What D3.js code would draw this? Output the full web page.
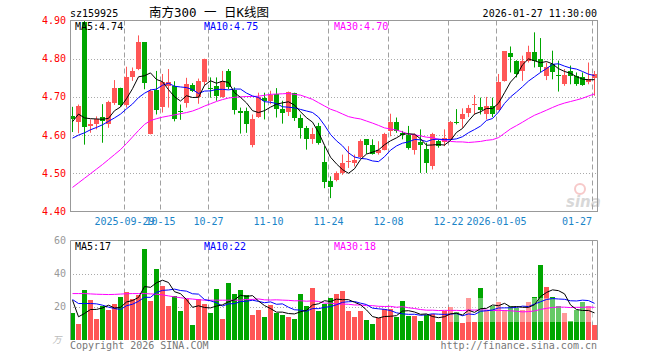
<!DOCTYPE html>
<html><head><meta charset="utf-8">
<script src="https://cdn.jsdelivr.net/npm/d3@7/dist/d3.min.js"></script>
<style>html,body{margin:0;padding:0;background:#fff;}svg{display:block;}</style>
</head><body>
<svg id="c" width="660" height="360"></svg>
<script>
const dates = ["09-16","09-17","09-18","09-19","09-22","09-23","09-24","09-25","09-26","09-29","09-30",
"10-09","10-10","10-13","10-14","10-15","10-16","10-17","10-20","10-21","10-22","10-23","10-24",
"10-27","10-28","10-29","10-30","10-31","11-03","11-04","11-05","11-06","11-07",
"11-10","11-11","11-12","11-13","11-14","11-17","11-18","11-19","11-20","11-21",
"11-24","11-25","11-26","11-27","11-28","12-01","12-02","12-03","12-04","12-05",
"12-08","12-09","12-10","12-11","12-12","12-15","12-16","12-17","12-18","12-19",
"12-22","12-23","12-24","12-25","12-26","12-29","12-30","12-31",
"01-05","01-06","01-07","01-08","01-09","01-12","01-13","01-14","01-15","01-16",
"01-19","01-20","01-21","01-22","01-23","01-26","01-27"];
const opens = [4.650,4.635,4.895,4.623,4.628,4.647,4.628,4.685,4.722,4.679,4.751,4.773,4.843,4.604,4.718,4.674,4.729,4.728,4.662,4.683,4.731,4.700,4.738,4.723,4.729,4.701,4.768,4.718,4.663,4.663,4.575,4.647,4.696,4.689,4.707,4.668,4.661,4.709,4.646,4.619,4.589,4.624,4.530,4.479,4.483,4.501,4.529,4.527,4.542,4.589,4.573,4.554,4.562,4.612,4.635,4.606,4.600,4.562,4.582,4.564,4.518,4.584,4.582,4.589,4.635,4.641,4.657,4.679,4.674,4.654,4.676,4.667,4.742,4.814,4.793,4.768,4.793,4.817,4.799,4.755,4.786,4.758,4.733,4.768,4.755,4.752,4.740,4.749];
const highs = [4.674,4.680,4.900,4.641,4.649,4.681,4.690,4.744,4.724,4.779,4.777,4.861,4.843,4.720,4.768,4.760,4.773,4.741,4.680,4.750,4.736,4.748,4.800,4.751,4.751,4.768,4.773,4.725,4.672,4.672,4.654,4.711,4.711,4.716,4.723,4.690,4.714,4.711,4.654,4.624,4.619,4.632,4.571,4.492,4.505,4.549,4.571,4.549,4.589,4.589,4.589,4.584,4.606,4.656,4.646,4.611,4.624,4.604,4.615,4.580,4.606,4.589,4.615,4.637,4.668,4.670,4.679,4.705,4.698,4.700,4.698,4.760,4.819,4.832,4.796,4.808,4.834,4.869,4.854,4.790,4.821,4.795,4.773,4.782,4.764,4.764,4.790,4.768];
const lows = [4.608,4.605,4.575,4.606,4.615,4.580,4.619,4.679,4.674,4.672,4.742,4.770,4.720,4.602,4.654,4.659,4.672,4.636,4.640,4.672,4.713,4.682,4.729,4.698,4.690,4.698,4.720,4.654,4.604,4.606,4.568,4.645,4.641,4.681,4.646,4.630,4.650,4.637,4.591,4.562,4.577,4.575,4.461,4.435,4.479,4.496,4.514,4.518,4.540,4.551,4.549,4.549,4.560,4.597,4.606,4.589,4.562,4.549,4.501,4.501,4.510,4.567,4.571,4.586,4.628,4.619,4.647,4.654,4.654,4.641,4.647,4.665,4.740,4.764,4.751,4.742,4.790,4.777,4.764,4.744,4.746,4.714,4.729,4.733,4.729,4.729,4.733,4.703];
const closes = [4.641,4.675,4.622,4.630,4.643,4.637,4.687,4.722,4.679,4.751,4.768,4.843,4.736,4.716,4.665,4.739,4.739,4.643,4.660,4.735,4.715,4.742,4.799,4.720,4.703,4.742,4.725,4.665,4.659,4.630,4.641,4.700,4.690,4.705,4.668,4.659,4.714,4.646,4.619,4.589,4.602,4.580,4.477,4.463,4.501,4.527,4.532,4.536,4.584,4.573,4.551,4.562,4.604,4.635,4.612,4.600,4.565,4.600,4.575,4.527,4.604,4.571,4.593,4.635,4.632,4.656,4.670,4.682,4.665,4.676,4.654,4.740,4.819,4.805,4.761,4.795,4.817,4.795,4.779,4.777,4.764,4.755,4.758,4.755,4.733,4.732,4.746,4.760];
const volumes = [16,9.6,30,24,12.6,20.4,18,21.6,25.8,28.8,24.8,27.2,54.6,23.4,42.6,32.4,20.4,26.8,17.4,25,9,25,21.6,16.2,30.6,12.6,34.2,27.6,30,27,15,18,13.8,21,16.2,15,13.8,12.6,27.6,20.4,31.2,17.4,21.8,25.2,27.6,29.6,17.4,14,17.6,12,9.6,13.2,18.4,18.4,13.8,23.4,14.4,14.4,11.4,15,15.6,10.8,17.4,20,17,10.2,25.2,10.8,31.2,18,20.4,23,18,20.4,19.2,18,22.8,25.8,45,31.8,25.8,20.4,16.2,11.6,18,22.8,20.4,9];

// moving-average values before enough in-chart history exists
const ma5Lead = [4.635,4.655,4.645,4.643];
const ma10Lead = [4.592,4.600,4.606,4.614,4.620,4.627,4.636,4.645,4.655];
const ma30Lead = [4.463,4.475,4.487,4.499,4.511,4.523,4.536,4.549,4.562,4.578,4.595,4.612,4.628,4.638,4.643,4.647,4.650,4.653,4.656,4.659,4.663,4.669,4.676,4.682,4.688,4.693,4.697,4.699,4.700];
const volMa5Lead = [24,14,16,18.4];
const volMa10Lead = [24.4,22,22,22,21.8,21,19.8,19,18.4];
const volMa30Lead = [28,28,28,27.8,27.6,27.5,27.4,27.5,27.7,27.9,28,28,28,27.8,27.6,27.2,26.6,26,25.5,25,24.7,24.3,24,24,24,24,24,24,24];

const priceTicks = [4.40,4.50,4.60,4.70,4.80,4.90];
const volTicks = [20,40,60];
const dateTicks = ["09-29","10-15","10-27","11-10","11-24","12-08","12-22","01-05","01-27"];
const dateTickLabels = ["2025-09-29","10-15","10-27","11-10","11-24","12-08","12-22","2026-01-05","01-27"];

const RED = "#ff5656", GREEN = "#00a600";
const FONT = "'DejaVu Sans Mono', monospace";

function rolling(vals, n, lead) {
  return vals.map((v, i) => i < n - 1 ? lead[i] : d3.mean(vals.slice(i - n + 1, i + 1)));
}
const ma5 = rolling(closes, 5, ma5Lead), ma10 = rolling(closes, 10, ma10Lead), ma30 = rolling(closes, 30, ma30Lead);
const vma5 = rolling(volumes, 5, volMa5Lead), vma10 = rolling(volumes, 10, volMa10Lead), vma30 = rolling(volumes, 30, volMa30Lead);

const svg = d3.select("#c");
const L = 70, R = 598;
const x = d3.scaleBand().domain(dates).range([L, R]).paddingInner(0).paddingOuter(0);
const bw = 5;
const cx = d => x(d) + 2.5;
const py = d3.scaleLinear().domain([4.40, 4.90]).range([211.5, 20.5]);
const vy = d3.scaleLinear().domain([0, 60]).range([340, 240.5]);
const PT = 20.5, PB = 211.5, VT = 240.5, VB = 340;

// horizontal grids
svg.append("g").selectAll("line").data([4.5,4.6,4.7,4.8]).join("line")
  .attr("x1", L).attr("x2", 597).attr("y1", d => Math.round(py(d)) + 0.5).attr("y2", d => Math.round(py(d)) + 0.5)
  .attr("stroke", "#aaa").attr("stroke-dasharray", "1,2");
svg.append("g").selectAll("line").data([20,40]).join("line")
  .attr("x1", L).attr("x2", 597).attr("y1", d => Math.round(vy(d)) + 0.5).attr("y2", d => Math.round(vy(d)) + 0.5)
  .attr("stroke", "#aaa").attr("stroke-dasharray", "1,2");

// vertical dashed grids
[[PT, PB], [VT, VB]].forEach(([t, b]) => {
  svg.append("g").selectAll("line").data(dateTicks).join("line")
    .attr("x1", d => x(d) + 0.5).attr("x2", d => x(d) + 0.5).attr("y1", t).attr("y2", b)
    .attr("stroke", "#a0a0a0").attr("stroke-dasharray", "5,3");
});

// watermark
const wm = svg.append("g").attr("opacity", 0.45);
wm.append("circle").attr("cx", 580).attr("cy", 189).attr("r", 5).attr("fill", "none").attr("stroke", "#e88").attr("stroke-width", 2);
wm.append("text").attr("x", 566).attr("y", 207).text("sina")
  .attr("font-family", "'DejaVu Sans', sans-serif").attr("font-style", "italic").attr("font-weight", "bold")
  .attr("font-size", 15).attr("fill", "#aaa");

// candles
const cg = svg.append("g");
dates.forEach((d, i) => {
  const up = closes[i] >= opens[i];
  const col = up ? RED : GREEN;
  cg.append("line").attr("x1", cx(d)).attr("x2", cx(d)).attr("y1", py(highs[i])).attr("y2", py(lows[i]))
    .attr("stroke", col).attr("stroke-width", 1);
  const top = py(Math.max(opens[i], closes[i])), bot = py(Math.min(opens[i], closes[i]));
  cg.append("rect").attr("x", x(d)).attr("width", bw).attr("y", top).attr("height", Math.max(1, bot - top))
    .attr("fill", col).attr("shape-rendering", "crispEdges");
});

// volume bars
svg.append("g").selectAll("rect").data(dates).join("rect")
  .attr("x", d => x(d)).attr("width", bw)
  .attr("y", (d, i) => vy(volumes[i])).attr("height", (d, i) => VB - vy(volumes[i]))
  .attr("fill", (d, i) => closes[i] >= opens[i] ? RED : GREEN).attr("shape-rendering", "crispEdges");

// faded watermark band in the volume panel
svg.append("rect").attr("x", 449).attr("y", 298).attr("width", 156).attr("height", 24)
  .attr("fill", "#fff").attr("opacity", 0.4);

// MA lines
const line = (ys, sc) => d3.line().x((d, i) => cx(dates[i])).y(d => sc(d))(ys);
[[ma30, "#ff00ff"], [ma10, "#0000ff"], [ma5, "#000"]].forEach(([arr, c]) =>
  svg.append("path").attr("d", line(arr, py)).attr("fill", "none").attr("stroke", c).attr("stroke-width", 1));
[[vma30, "#ff00ff"], [vma10, "#0000ff"], [vma5, "#000"]].forEach(([arr, c]) =>
  svg.append("path").attr("d", line(arr, vy)).attr("fill", "none").attr("stroke", c).attr("stroke-width", 1));

// borders
const bc = "#999";
svg.append("rect").attr("x", 70.5).attr("y", PT).attr("width", 527).attr("height", PB - PT)
  .attr("fill", "none").attr("stroke", bc);
svg.append("path").attr("d", `M70.5,${VB}V${VT}H597.5V${VB}`).attr("fill", "none").attr("stroke", bc);

// text helper
function txt(xp, yp, s, col, anchor, size) {
  return svg.append("text").attr("x", xp).attr("y", yp).text(s).attr("fill", col)
    .attr("font-family", FONT).attr("font-size", size || 10).attr("text-anchor", anchor || "start");
}

// price axis labels
priceTicks.forEach(v => txt(66, py(v) + 3.5, v.toFixed(2), "#ff0000", "end"));
// volume axis labels
volTicks.forEach(v => txt(66, vy(v) + 3.5, String(v), "#999", "end"));
svg.append("text").attr("x", 57).attr("y", 343).text("万").attr("fill", "#bbb")
  .attr("font-family", "'Noto Sans CJK SC', sans-serif").attr("font-size", 9).attr("font-style", "italic").attr("text-anchor", "middle");

// date labels (last one is kept inside the plot's right edge)
dateTicks.forEach((d, k) => {
  const last = k === dateTicks.length - 1;
  txt(last ? x(d) : x(d) + 0.5, 225, dateTickLabels[k], "#1a84c8", last ? "end" : "middle");
});

// header
txt(70, 16.5, "sz159925", "#000");
svg.append("text").attr("x", 209).attr("y", 17).text("南方300 一 日K线图").attr("fill", "#000")
  .attr("font-family", "'DejaVu Sans Mono', 'Noto Sans CJK SC', monospace").attr("font-size", 12.5).attr("text-anchor", "middle");
txt(597, 16.5, "2026-01-27 11:30:00", "#000", "end");

// MA legends
txt(75, 29.5, "MA5:4.74", "#000");
txt(204, 29.5, "MA10:4.75", "#0000ff");
txt(334, 29.5, "MA30:4.70", "#ff00ff");
txt(75, 249.5, "MA5:17", "#000");
txt(204, 249.5, "MA10:22", "#0000ff");
txt(334, 249.5, "MA30:18", "#ff00ff");

// footer
txt(70, 349, "Copyright 2026 SINA.COM", "#777");
txt(597, 349, "http://finance.sina.com.cn", "#777", "end");
</script>
</body></html>
